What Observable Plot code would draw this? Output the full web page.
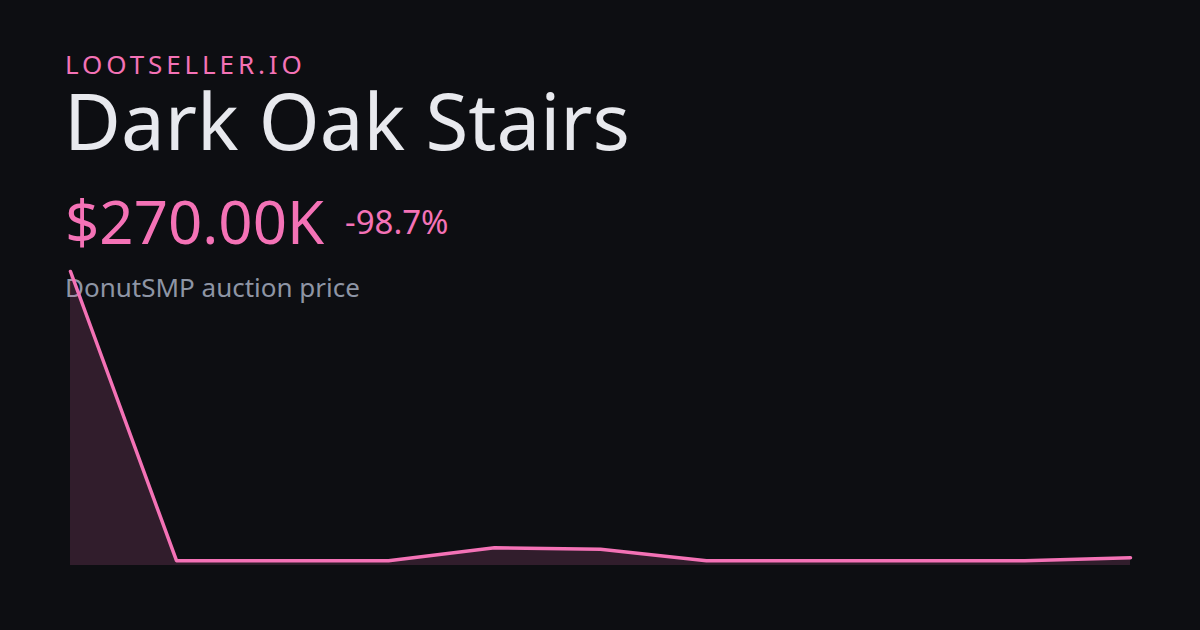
<!DOCTYPE html>
<html>
<head>
<meta charset="utf-8">
<script src="https://cdn.jsdelivr.net/npm/d3@7"></script>
<script src="https://cdn.jsdelivr.net/npm/@observablehq/plot@0.6"></script>
<style>
  html, body { margin: 0; padding: 0; background: #0d0e12; }
  body { width: 1200px; height: 630px; position: relative; overflow: hidden; font-family: "Noto Sans", sans-serif; }
  .t { position: absolute; white-space: nowrap; line-height: 1; margin: 0; }
  #brand { left: 65px; top: 51px; font-size: 26px; letter-spacing: 0.15em; color: #f472b6; }
  #title { left: 64px; top: 81px; font-size: 78px; color: #e8e9ee; }
  #price { left: 65px; top: 191px; font-size: 60px; color: #f472b6; }
  #change { left: 345px; top: 205px; font-size: 33px; color: #f472b6; }
  #sub { left: 65px; top: 274px; font-size: 26px; color: #8e95a5; }
  #chart { position: absolute; left: 0; top: 0; z-index: 2; }
</style>
</head>
<body>
<div class="t" id="brand">LOOTSELLER.IO</div>
<div class="t" id="title">Dark Oak Stairs</div>
<div class="t" id="price">$270.00K</div>
<div class="t" id="change">-98.7%</div>
<div class="t" id="sub">DonutSMP auction price</div>
<div id="chart"></div>
<script>
const points = [0, 1, 2, 3, 4, 5, 6, 7, 8, 9, 10];
const prices = [20770000, 55000, 55000, 55000, 980000, 880000, 55000, 55000, 55000, 55000, 270000];

const data = points.map((p, i) => ({i: p, price: prices[i]}));
const yMin = d3.min(prices), yMax = d3.max(prices);
const yLo = yMin - (yMax - yMin) * 0.0166;

const chart = Plot.plot({
  width: 1200,
  height: 630,
  marginLeft: 70,
  marginRight: 70,
  marginTop: 271,
  marginBottom: 65,
  style: {background: "transparent"},
  x: {domain: [0, 10], axis: null},
  y: {domain: [yLo, yMax], axis: null},
  marks: [
    Plot.areaY(data, {x: "i", y1: yLo, y2: "price", fill: "#f472b6", fillOpacity: 0.16}),
    Plot.lineY(data, {x: "i", y: "price", stroke: "#f472b6", strokeWidth: 3.5, strokeLinejoin: "round", strokeLinecap: "round"})
  ]
});
document.getElementById("chart").appendChild(chart);
</script>
</body>
</html>
